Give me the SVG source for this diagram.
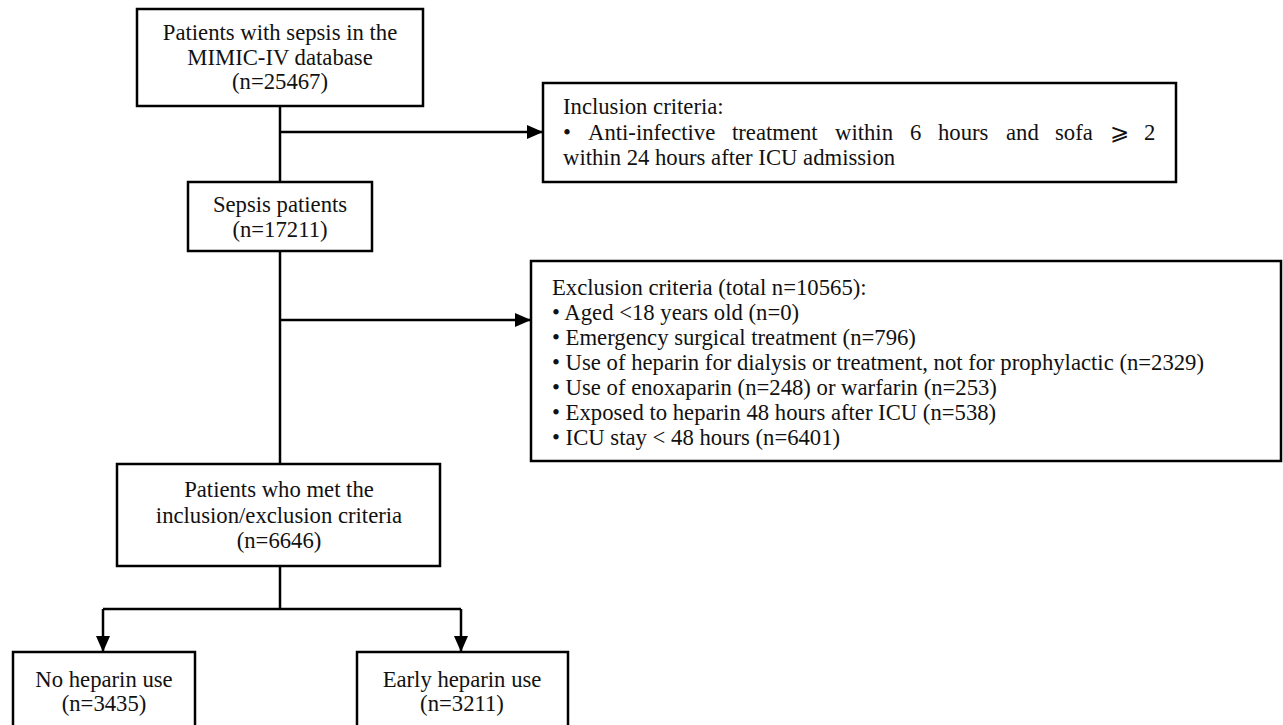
<svg xmlns="http://www.w3.org/2000/svg" width="1283" height="725" viewBox="0 0 1283 725">
<style>
.box{fill:#fff;stroke:#000;stroke-width:2.5}
.t{font-family:"Liberation Serif","Times New Roman",serif;font-size:22.7px;fill:#111}
.c{text-anchor:middle}
.ln{fill:none;stroke:#000;stroke-width:2.5}
</style>
<defs>
<marker id="ah" viewBox="0 0 16 14" refX="16" refY="7" markerWidth="16" markerHeight="14" markerUnits="userSpaceOnUse" orient="auto">
<path d="M0,0 L16,7 L0,14 Z" fill="#000"/>
</marker>
</defs>
<rect width="1283" height="725" fill="#fff"/>
<g id="connectors">
<path class="ln" d="M280,106 V182"/>
<path class="ln" d="M280,132 H543" marker-end="url(#ah)"/>
<path class="ln" d="M280,251 V464"/>
<path class="ln" d="M280,320 H531" marker-end="url(#ah)"/>
<path class="ln" d="M280,566 V609"/>
<path class="ln" d="M103,609 H461"/>
<path class="ln" d="M103,609 V652" marker-end="url(#ah)"/>
<path class="ln" d="M461,609 V652" marker-end="url(#ah)"/>
</g>
<g id="n1">
<rect class="box" x="137" y="9" width="286" height="97"/>
<text class="t c" x="280" y="40">Patients with sepsis in the</text>
<text class="t c" x="280" y="65">MIMIC-IV database</text>
<text class="t c" x="280" y="89">(n=25467)</text>
</g>
<g id="inclusion">
<rect class="box" x="543" y="83" width="633" height="99"/>
<text class="t" x="563" y="114">Inclusion criteria:</text>
<text class="t" y="139.5"><tspan x="563">•</tspan><tspan x="588">Anti-infective</tspan><tspan x="732">treatment</tspan><tspan x="835">within</tspan><tspan x="910">6</tspan><tspan x="938">hours</tspan><tspan x="1006">and</tspan><tspan x="1055">sofa</tspan><tspan x="1110">⩾</tspan><tspan x="1144">2</tspan></text>
<text class="t" x="563" y="165">within 24 hours after ICU admission</text>
</g>
<g id="n2">
<rect class="box" x="188" y="182" width="184" height="69"/>
<text class="t c" x="280" y="212">Sepsis patients</text>
<text class="t c" x="280" y="237">(n=17211)</text>
</g>
<g id="exclusion">
<rect class="box" x="531" y="261" width="750" height="200"/>
<text class="t" x="552" y="295">Exclusion criteria (total n=10565):</text>
<text class="t" x="552" y="320">• Aged &lt;18 years old (n=0)</text>
<text class="t" x="552" y="345">• Emergency surgical treatment (n=796)</text>
<text class="t" x="552" y="370">• Use of heparin for dialysis or treatment, not for prophylactic (n=2329)</text>
<text class="t" x="552" y="395">• Use of enoxaparin (n=248) or warfarin (n=253)</text>
<text class="t" x="552" y="420">• Exposed to heparin 48 hours after ICU (n=538)</text>
<text class="t" x="552" y="445">• ICU stay &lt; 48 hours (n=6401)</text>
</g>
<g id="n4">
<rect class="box" x="117" y="464" width="323" height="102"/>
<text class="t c" x="279" y="497">Patients who met the</text>
<text class="t c" x="279" y="523">inclusion/exclusion criteria</text>
<text class="t c" x="279" y="548">(n=6646)</text>
</g>
<g id="n5">
<rect class="box" x="13" y="652" width="182" height="90"/>
<text class="t c" x="104" y="687">No heparin use</text>
<text class="t c" x="104" y="711">(n=3435)</text>
</g>
<g id="n6">
<rect class="box" x="357" y="652" width="211" height="90"/>
<text class="t c" x="462" y="687">Early heparin use</text>
<text class="t c" x="462" y="711">(n=3211)</text>
</g>
</svg>
